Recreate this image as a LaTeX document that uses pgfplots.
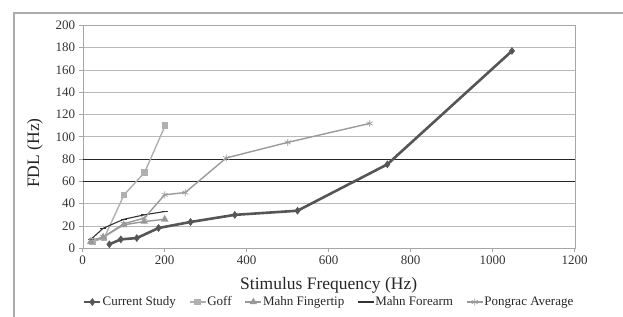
\documentclass[border=0pt]{standalone}
\usepackage{fontspec}
\setmainfont{Liberation Serif}
\usepackage{pgfplots}
\pgfplotsset{compat=1.18}
\definecolor{cs}{HTML}{555555}
\definecolor{goff}{HTML}{B0B0B0}
\definecolor{mfing}{HTML}{999999}
\definecolor{mfore}{HTML}{333333}
\definecolor{pong}{HTML}{9A9A9A}
\begin{document}
\begin{tikzpicture}[x=1pt,y=1pt]
\begin{axis}[name=ax, scale only axis, width=492pt, height=223pt,
  xmin=0, xmax=1200, ymin=0, ymax=200,
  xtick={0,200,...,1200}, ytick={0,20,...,200},
  ymajorgrids, grid style={gray!55, line width=0.8pt},
  extra y ticks={60,80}, extra y tick labels={},
  extra y tick style={grid style={black!85, line width=0.8pt}},
  axis line style={gray!70}, tick style={gray!70, line width=0.8pt},
  tick align=outside, tick pos=left, major tick length=4pt,
  /pgf/number format/assume math mode=true,
  /pgf/number format/1000 sep={},
  ticklabel style={font=\fontsize{13}{13}\selectfont, text=black!80},
  xlabel={Stimulus Frequency (Hz)}, ylabel={FDL (Hz)},
  label style={font=\fontsize{17.5}{17.5}\selectfont, text=black!85},
  xlabel style={at={(axis description cs:0.5,-0.165)}, anchor=center},
  ylabel style={at={(axis description cs:-0.097,0.427)}, anchor=center},
  legend columns=5,
  legend style={draw=none, fill=none, at={(axis description cs:0.5,-0.241)}, anchor=center,
    font=\fontsize{13}{13}\selectfont, text=black!85,
    /tikz/every even column/.append style={column sep=12pt},
    nodes={inner sep=1pt}},
  legend image code/.code={\draw[mark repeat=2,mark phase=2] plot coordinates {(0pt,0pt)(8pt,0pt)(16pt,0pt)};},
]
\addplot[color=cs, line width=2.6pt, mark=diamond*, mark size=3.5pt, mark options={line width=0.5pt}] coordinates {
(65,3.6) (93,8) (132,9.2) (185,18.2) (263,23.6) (371,30) (524,33.7) (743,75.3) (1047,177)};
\addlegendentry{Current Study}
\addplot[color=goff, line width=1.4pt, mark=square*, mark size=2.5pt] coordinates {
(24,6) (52,9) (101,48) (151,68) (201,110)};
\addlegendentry{Goff}
\addplot[color=mfing, line width=1.4pt, mark=triangle*, mark size=3pt] coordinates {
(20,6) (50,10) (100,21) (150,24) (200,26)};
\addlegendentry{Mahn Fingertip}
\addplot[color=mfore, line width=1.1pt, mark=-, mark size=3pt] coordinates {
(20,8) (50,18) (100,26) (150,30) (200,33)};
\addlegendentry{Mahn Forearm}
\addplot[color=pong, line width=1.4pt, mark=asterisk, mark size=3.5pt, mark options={line width=0.6pt}] coordinates {
(20,7) (50,10) (100,22) (150,27) (200,48) (250,50) (350,81) (500,95) (700,112)};
\addlegendentry{Pongrac Average}
\end{axis}
\draw[shift={(ax.south west)}, gray!65, line width=1.3pt] (-68.7,-80) -- (-68.7,235.3) -- (560,235.3);
\pgfresetboundingbox
\useasboundingbox[shift={(ax.south west)}] (-82.7,-67.7) rectangle (540.3,248.3);
\end{tikzpicture}
\end{document}
